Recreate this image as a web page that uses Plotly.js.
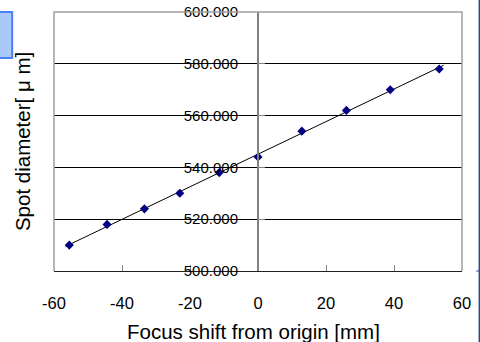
<!DOCTYPE html>
<html><head><meta charset="utf-8">
<script src="https://cdn.plot.ly/plotly-3.0.1.min.js"></script>
<style>html,body{margin:0;padding:0;background:#fff;}#chart{width:480px;height:342px;}</style>
</head><body><div id="chart"></div>
<script>
var focusShift = [-55.5, -44.4, -33.4, -23.0, -11.4, 0, 12.9, 26.0, 38.9, 53.3];
var spotDiameter = [510, 518, 524, 530, 538, 544, 554, 562, 570, 578];
var xTicks = [-60, -40, -20, 0, 20, 40, 60];
var yTicks = [500, 520, 540, 560, 580, 600];
var trendExtent = [-56.6, 54.6];

// least-squares trendline
var n = focusShift.length, sx = 0, sy = 0, sxx = 0, sxy = 0;
for (var i = 0; i < n; i++) { sx += focusShift[i]; sy += spotDiameter[i]; sxx += focusShift[i]*focusShift[i]; sxy += focusShift[i]*spotDiameter[i]; }
var slope = (n*sxy - sx*sy) / (n*sxx - sx*sx);
var icpt = (sy - slope*sx) / n;
var trendY = trendExtent.map(function(x){ return icpt + slope*x; });

var font = 'Liberation Sans, Arial, sans-serif';
var data = [
  {x: trendExtent, y: trendY, mode: 'lines', line: {color: '#000', width: 1}, hoverinfo: 'skip', showlegend: false},
  {x: focusShift, y: spotDiameter, mode: 'markers', marker: {symbol: 'diamond', size: 7, color: '#000080'}, showlegend: false}
];
var layout = {
  width: 480, height: 342,
  margin: {l: 53.7, r: 18.3, t: 12, b: 71, pad: 0},
  paper_bgcolor: '#fff', plot_bgcolor: '#fff',
  showlegend: false,
  xaxis: {
    range: [-60, 60], tickvals: xTicks, ticktext: xTicks.map(String),
    showgrid: false, zeroline: false,
    showline: true, linecolor: '#222', linewidth: 1,
    ticks: 'inside', ticklen: 6, tickcolor: '#888', tickwidth: 1,
    ticklabelstandoff: 17,
    tickfont: {family: font, size: 16.5, color: '#000'}
  },
  yaxis: {
    range: [500, 600], tickvals: yTicks, tickformat: '.3f',
    anchor: 'free', position: 0.5,
    showgrid: true, gridcolor: '#000', gridwidth: 1, zeroline: false,
    showline: true, linecolor: '#808080', linewidth: 2,
    ticks: 'inside', ticklen: 6, tickcolor: '#808080',
    ticklabelstandoff: 16,
    tickfont: {family: font, size: 15, color: '#000'}
  },
  shapes: [
    {type: 'path', xref: 'paper', yref: 'paper', path: 'M0,0 L0,1 L1,1 L1,0', line: {color: '#a0a0a0', width: 1.5}, layer: 'above'},
    {type: 'line', xref: 'paper', yref: 'paper', x0: 1.0424, x1: 1.0424, y0: -0.3, y1: 1.1, line: {color: '#2e4a8c', width: 1.5}},
    {type: 'line', xref: 'paper', yref: 'paper', x0: 1.035, x1: 1.0424, y0: 0, y1: 0, line: {color: '#2e4a8c', width: 1}},
    {type: 'rect', xref: 'paper', yref: 'paper', x0: -0.15, x1: -0.1025, y0: 0.822, y1: 1.0, fillcolor: '#a9c9f7', line: {color: '#4a7ff5', width: 2}}
  ],
  annotations: [
    {text: 'Focus shift from origin [mm]', xref: 'paper', yref: 'paper', x: 0.49, y: -0.232, yanchor: 'middle', showarrow: false, font: {family: font, size: 20.5, color: '#000'}},
    {text: 'Spot diameter[ μ m]', xref: 'paper', yref: 'paper', x: -0.077, y: 0.5, textangle: -90, xanchor: 'center', yanchor: 'middle', showarrow: false, font: {family: font, size: 20.5, color: '#000'}}
  ]
};
Plotly.newPlot('chart', data, layout, {staticPlot: true, displayModeBar: false});
</script></body></html>
